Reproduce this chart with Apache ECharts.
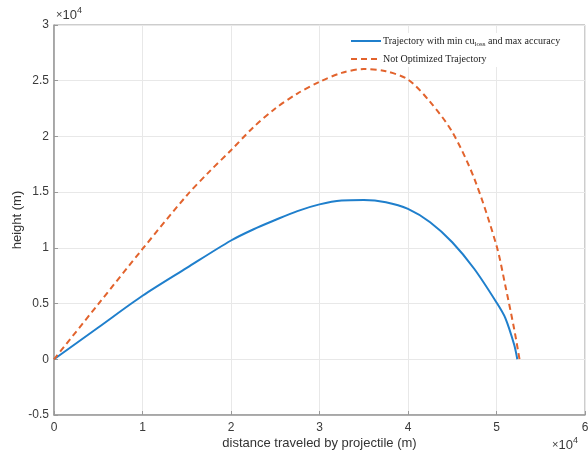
<!DOCTYPE html>
<html>
<head>
<meta charset="utf-8">
<script src="https://cdn.jsdelivr.net/npm/echarts@6/dist/echarts.min.js"></script>
<style>html,body{margin:0;padding:0;background:#fff;}#c{width:588px;height:455px;}</style>
</head>
<body>
<div id="c"></div>
<script>
// distance (m) and height (m)
const optX = [0, 5000, 10000, 15000, 20000, 22500, 25000, 27500, 30000, 32500, 35000, 37500, 40000, 42500, 45000, 47500, 50000, 51000, 52000, 52350];
const optY = [0, 2850, 5700, 8200, 10660, 11650, 12500, 13300, 13900, 14250, 14300, 14100, 13500, 12300, 10500, 8100, 5100, 3700, 1300, 0];
const notX = [0, 5000, 10000, 15000, 17500, 20000, 22500, 25000, 27500, 30000, 32500, 35000, 37500, 40000, 42500, 45000, 47500, 50000, 51000, 52000, 52600];
const notY = [0, 4950, 9900, 14700, 16800, 18760, 20800, 22500, 23850, 24900, 25700, 26050, 25850, 25100, 23100, 20400, 16200, 10200, 6600, 2700, 0];
const seriesNames = ['Trajectory with min cu{sub|loss} and max accuracy', 'Not Optimized Trajectory'];
const xTicks = [0, 1, 2, 3, 4, 5, 6];
const yTicks = [-0.5, 0, 0.5, 1, 1.5, 2, 2.5, 3];
const xName = 'distance traveled by projectile (m)';
const yName = 'height (m)';

const zip = (xs, ys) => xs.map((x, i) => [x, ys[i]]);
const chart = echarts.init(document.getElementById('c'), null, {renderer: 'canvas'});
const labelColor = '#3a3a3a';
const expRich = {
  b: {fontFamily: 'Liberation Sans', fontSize: 13, fill: labelColor},
  s: {fontFamily: 'Liberation Sans', fontSize: 9, fill: labelColor, padding: [0, 0, 9, 0]},
  x: {fontFamily: 'Liberation Sans', fontSize: 11, fill: labelColor}
};
chart.setOption({
  animation: false,
  grid: {left: 54, right: 3, top: 25, bottom: 40, show: true, borderColor: '#9a9a9a', borderWidth: 1,
    containLabel: false, outerBoundsMode: 'none'},
  xAxis: {
    type: 'value', min: 0, max: 60000, interval: 10000,
    name: xName, nameLocation: 'middle', nameGap: 22, nameMoveOverlap: false,
    nameTextStyle: {fontFamily: 'Liberation Sans', fontSize: 13, color: '#333'},
    axisLine: {show: true, onZero: false, lineStyle: {color: '#9a9a9a', width: 1.5}},
    axisTick: {show: true, inside: true, length: 4, lineStyle: {color: '#9a9a9a'}},
    axisLabel: {fontFamily: 'Liberation Sans', fontSize: 12, color: labelColor, margin: 7,
      formatter: v => { const t = v / 10000; return xTicks.includes(t) ? String(t) : ''; }},
    splitLine: {show: true, lineStyle: {color: '#e8e8e8', width: 1}}
  },
  yAxis: {
    type: 'value', min: -5000, max: 30000, interval: 5000,
    axisLine: {show: true, onZero: false, lineStyle: {color: '#9a9a9a', width: 1.5}},
    axisTick: {show: true, inside: true, length: 4, lineStyle: {color: '#9a9a9a'}},
    axisLabel: {fontFamily: 'Liberation Sans', fontSize: 12, color: labelColor, margin: 5,
      formatter: v => { const t = Math.round(v / 1000) / 10; return yTicks.includes(t) ? String(t) : ''; }},
    splitLine: {show: true, lineStyle: {color: '#e8e8e8', width: 1}}
  },
  legend: {
    left: 348, top: 33, orient: 'vertical', itemGap: 6, itemWidth: 30, itemHeight: 10,
    backgroundColor: '#fff', padding: [3, 6, 3, 2],
    itemStyle: {opacity: 0},
    textStyle: {fontFamily: 'Liberation Serif', fontSize: 10, color: '#222', padding: [0, 0, 0, -3],
      rich: {sub: {fontFamily: 'Liberation Serif', fontSize: 7, color: '#222', padding: [7, 0, 0, 0]}}},
    data: seriesNames
  },
  graphic: [
    {type: 'text', left: 56, top: 6, style: {rich: expRich, text: '{x|×}{b|10}{s|4}'}},
    {type: 'text', left: 552, top: 436, style: {rich: expRich, text: '{x|×}{b|10}{s|4}'}},
    {type: 'text', x: 17, y: 220, rotation: Math.PI / 2,
      style: {text: yName, fontFamily: 'Liberation Sans', fontSize: 13, fill: '#333', align: 'center', verticalAlign: 'middle'}}
  ],
  series: [
    {name: seriesNames[0], type: 'line', smooth: 0.3, symbol: 'none', data: zip(optX, optY),
      lineStyle: {color: '#1f7fcc', width: 2}, itemStyle: {color: '#1f7fcc'}},
    {name: seriesNames[1], type: 'line', smooth: 0.3, symbol: 'none', data: zip(notX, notY),
      lineStyle: {color: '#e2632d', width: 2, type: [6, 4]}, itemStyle: {color: '#e2632d'}}
  ]
});
</script>
</body>
</html>
